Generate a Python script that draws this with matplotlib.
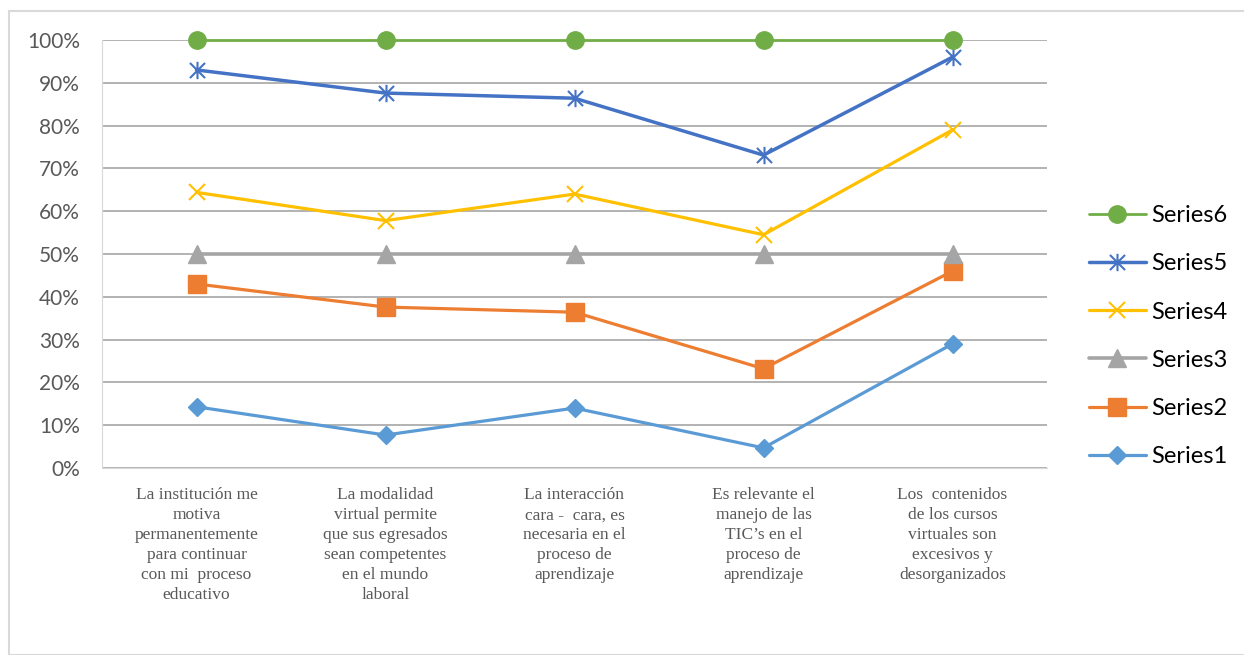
import matplotlib
matplotlib.use("Agg")
import matplotlib.pyplot as plt
from matplotlib.path import Path
from matplotlib.patches import Rectangle
from matplotlib.ticker import PercentFormatter

categories = [
    "La institución me\nmotiva\npermanentemente\npara continuar\ncon mi  proceso\neducativo",
    "La modalidad\nvirtual permite\nque sus egresados\nsean competentes\nen el mundo\nlaboral",
    "La interacción\ncara -  cara, es\nnecesaria en el\nproceso de\naprendizaje",
    "Es relevante el\nmanejo de las\nTIC’s en el\nproceso de\naprendizaje",
    "Los  contenidos\nde los cursos\nvirtuales son\nexcesivos y\ndesorganizados",
]
series1 = [14.3, 7.7, 14.0, 4.7, 29.0]
series2 = [43.0, 37.6, 36.4, 23.2, 46.0]
series3 = [50.0, 50.0, 50.0, 50.0, 50.0]
series4 = [64.4, 57.8, 64.0, 54.5, 79.0]
series5 = [93.0, 87.6, 86.4, 73.1, 96.0]
series6 = [100.0, 100.0, 100.0, 100.0, 100.0]
names = ["Series1", "Series2", "Series3", "Series4", "Series5", "Series6"]

star = Path([(-1, -1), (1, 1), (-1, 1), (1, -1), (0, -1.15), (0, 1.15)],
            [Path.MOVETO, Path.LINETO, Path.MOVETO, Path.LINETO, Path.MOVETO, Path.LINETO])

styles = [
    dict(color="#5B9BD5", marker="D", ms=9.5, lw=2.3),
    dict(color="#ED7D31", marker="s", ms=12.5, lw=2.3),
    dict(color="#A5A5A5", marker="^", ms=12.5, lw=2.6),
    dict(color="#FFC000", marker="x", ms=11.5, mew=1.5, lw=2.3),
    dict(color="#4472C4", marker=star, ms=12.5, mew=1.5, lw=2.5),
    dict(color="#70AD47", marker="o", ms=12.5, lw=2.0),
]

fig = plt.figure(figsize=(12.44, 6.55), dpi=100)
fig.patches.append(Rectangle((8.5 / 1244, 0), 1, 1 - 11 / 655, transform=fig.transFigure,
                             fill=False, edgecolor="#D9D9D9", linewidth=1.5))
ax = fig.add_axes([102 / 1244, 1 - 468 / 655, 945 / 1244, 428 / 655])

x = list(range(len(categories)))
data = [series1, series2, series3, series4, series5, series6]
handles = []
for vals, name, st in zip(data, names, styles):
    h, = ax.plot(x, vals, color=st["color"], lw=st["lw"], marker=st["marker"],
                 markersize=st["ms"], markeredgewidth=st.get("mew", 1),
                 markerfacecolor=st["color"], markeredgecolor=st["color"],
                 label=name, zorder=3, solid_capstyle="round", clip_on=False)
    handles.append(h)

ax.set_xlim(-0.5, 4.5)
ax.set_ylim(0, 100)
ax.set_yticks(range(0, 101, 10))
ax.yaxis.set_major_formatter(PercentFormatter(decimals=0))
ax.grid(axis="y", color="#A6A6A6", lw=1.2, zorder=0)
for s in ["top", "right"]:
    ax.spines[s].set_visible(False)
ax.spines["left"].set_color("#D9D9D9")
ax.spines["bottom"].set_color("#D9D9D9")
ax.tick_params(axis="both", length=0)
ax.tick_params(axis="y", labelsize=15, labelcolor="#595959", pad=16)
for lab in ax.get_yticklabels():
    lab.set_fontfamily(["Lato", "DejaVu Sans"])
ax.set_xticks(x)
ax.set_xticklabels(categories, fontfamily="Liberation Serif", fontsize=12.5,
                   color="#595959", linespacing=1.32)
ax.tick_params(axis="x", pad=14)

leg = ax.legend(handles[::-1], names[::-1], loc="center left",
                bbox_to_anchor=(1.022, 0.308), frameon=False,
                labelspacing=1.15, handlelength=2.4, handletextpad=0.25,
                prop={"family": ["Lato", "DejaVu Sans"], "size": 17})

fig.savefig("out.png", dpi=100)
